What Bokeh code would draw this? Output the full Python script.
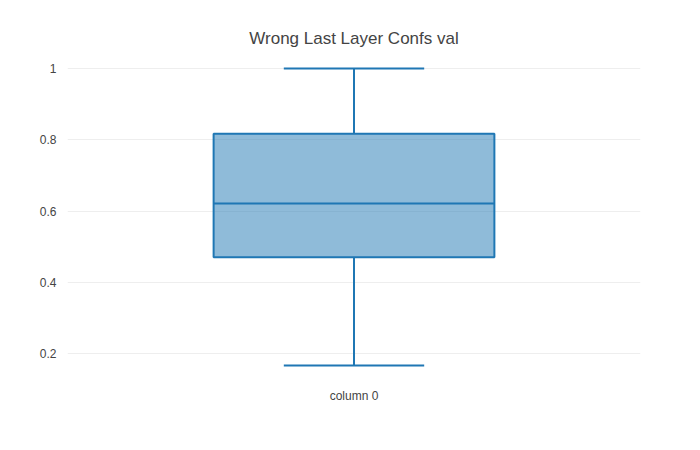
from bokeh.plotting import figure
from bokeh.models import FixedTicker, Range1d
from bokeh.embed import file_html
from bokeh.resources import INLINE

# box stats
category = ["column 0"]
lower_fence = [0.166]
q1 = [0.47]
median = [0.621]
q3 = [0.817]
upper_fence = [1.0]
y_ticks = [0.2, 0.4, 0.6, 0.8, 1.0]

BLUE = "#1f77b4"
FONT = "Liberation Sans"

p = figure(width=684, height=434, output_backend="svg", toolbar_location=None,
           x_range=Range1d(0, 1), y_range=Range1d(0.1326, 1.045),
           title="Wrong Last Layer Confs val",
           min_border_left=67, min_border_right=44, min_border_bottom=57,
           min_border_top=52)
p.outline_line_color = None
p.title.align = "center"
p.title.text_font = FONT
p.title.text_font_size = "17px"
p.title.text_font_style = "normal"
p.title.text_color = "#444444"

xc = [0.5]
p.vbar(x=xc, width=0.49, bottom=q1, top=q3, fill_color=BLUE, fill_alpha=0.5,
       line_color=BLUE, line_width=2)
p.segment(x0=[0.255], x1=[0.745], y0=median, y1=median, line_color=BLUE, line_width=2)
p.segment(x0=xc, x1=xc, y0=q3, y1=upper_fence, line_color=BLUE, line_width=2)
p.segment(x0=xc, x1=xc, y0=lower_fence, y1=q1, line_color=BLUE, line_width=2)
p.segment(x0=[0.3775, 0.3775], x1=[0.6225, 0.6225], y0=[upper_fence[0], lower_fence[0]],
          y1=[upper_fence[0], lower_fence[0]], line_color=BLUE, line_width=2)

p.xaxis.ticker = FixedTicker(ticks=xc)
p.xaxis.major_label_overrides = {0.5: category[0]}
p.yaxis.ticker = FixedTicker(ticks=y_ticks)
p.yaxis.major_label_overrides = {1.0: "1"}
for ax in (p.xaxis, p.yaxis):
    ax.axis_line_color = None
    ax.major_tick_line_color = None
    ax.minor_tick_line_color = None
    ax.major_label_text_font = FONT
    ax.major_label_text_font_size = "12px"
    ax.major_label_text_color = "#444444"
p.xgrid.grid_line_color = None
p.ygrid.grid_line_color = "#eeeeee"

open("out.html", "w").write(file_html(p, INLINE))
